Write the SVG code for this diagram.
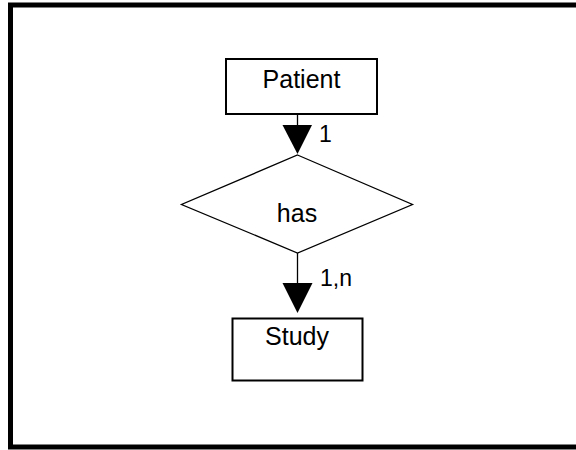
<svg xmlns="http://www.w3.org/2000/svg" width="576" height="450" viewBox="0 0 576 450">
<style>
.box{fill:#fff;stroke:#000;stroke-width:2}
.t{font-family:"Liberation Sans",Arial,sans-serif;font-size:25px;fill:#000}
.lbl{font-family:"Liberation Sans",Arial,sans-serif;font-size:23px;fill:#000}
.ln{stroke:#000;stroke-width:1.3;fill:none}
.ah{fill:#000;stroke:none}
</style>
<rect x="0" y="0" width="576" height="450" fill="#fff"/>
<rect x="10.5" y="5" width="580" height="442" fill="none" stroke="#000" stroke-width="5"/>
<g id="connectors">
<line class="ln" x1="297.5" y1="114" x2="297.5" y2="130"/>
<polygon class="ah" points="282.5,125 312,125 297.5,154"/>
<text class="lbl" x="319" y="142">1</text>
<line class="ln" x1="297.5" y1="253" x2="297.5" y2="288"/>
<polygon class="ah" points="282.5,283 312.5,283 297.5,313"/>
<text class="lbl" x="320" y="286">1,n</text>
</g>
<g id="patient">
<rect class="box" x="226" y="59" width="151" height="55"/>
<text class="t" x="301.5" y="88" text-anchor="middle">Patient</text>
</g>
<g id="has">
<polygon points="297.5,155 412.5,204.5 297.5,253 181.5,204.5" fill="#fff" stroke="#000" stroke-width="1.3"/>
<text class="t" x="297" y="222" text-anchor="middle">has</text>
</g>
<g id="study">
<rect class="box" x="232.5" y="318.5" width="130" height="62"/>
<text class="t" x="297" y="345" text-anchor="middle">Study</text>
</g>
</svg>
